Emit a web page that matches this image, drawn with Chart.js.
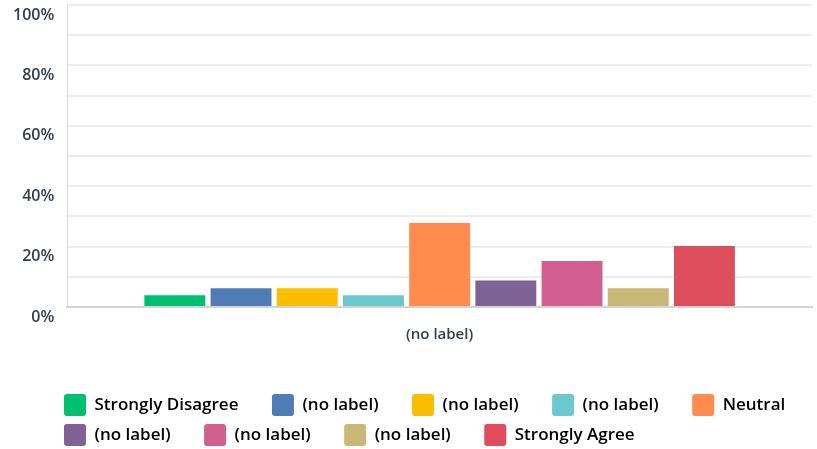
<!DOCTYPE html>
<html>
<head>
<meta charset="utf-8">
<script src="https://cdn.jsdelivr.net/npm/chart.js@4"></script>
<style>
  html, body { margin: 0; padding: 0; background: #fff; }
  #wrap { width: 817px; height: 449px; }
</style>
</head>
<body>
<div id="wrap"><canvas id="answerChart"></canvas></div>
<script>
// data
const categories = ["(no label)"];
const seriesNames = ["Strongly Disagree", "(no label)", "(no label)", "(no label)", "Neutral",
  "(no label)", "(no label)", "(no label)", "Strongly Agree"];
const seriesValues = [3.85, 6.2, 6.2, 3.85, 27.8, 8.8, 15.2, 6.2, 20.2];
const seriesColors = ["#00bf6f", "#507cb6", "#f9be00", "#6bc8cd", "#ff8b4f",
  "#7f6296", "#d25f90", "#c9b877", "#dd4d5c"];
const yTicks = [0, 20, 40, 60, 80, 100];

const textColor = "#333e48";
const fontFamily = "'Open Sans', sans-serif";

// shift the legend so it lines up with the plot area
const legendShift = {
  id: "legendShift",
  afterLayout(chart) {
    chart.legend.left += 56;
    chart.legend.right += 56;
  },
};

const ctx = document.getElementById("answerChart").getContext("2d");

new Chart(ctx, {
  type: "bar",
  data: {
    labels: categories,
    datasets: seriesNames.map((name, i) => ({
      label: name,
      data: [seriesValues[i]],
      backgroundColor: seriesColors[i],
      borderWidth: 0,
      categoryPercentage: 0.8,
      barPercentage: 0.92,
    })),
  },
  options: {
    responsive: true,
    maintainAspectRatio: false,
    animation: false,
    layout: { padding: { top: 5, right: 5, left: 0, bottom: -7 } },
    plugins: {
      tooltip: { enabled: false },
      legend: {
        position: "bottom",
        align: "start",
        labels: {
          boxWidth: 22,
          boxHeight: 22,
          padding: 8,
          color: textColor,
          font: { family: fontFamily, size: 17, weight: "600" },
          generateLabels(chart) {
            return chart.data.datasets.map((ds, i) => ({
              text: ds.label + "\u2003\u2002",
              fillStyle: ds.backgroundColor,
              strokeStyle: ds.backgroundColor,
              lineWidth: 0,
              datasetIndex: i,
              borderRadius: 3,
              hidden: false,
            }));
          },
          useBorderRadius: true,
          borderRadius: 3,
        },
      },
    },
    scales: {
      x: {
        grid: { display: false },
        border: { display: true, color: "#d3d3d3", width: 2 },
        ticks: {
          color: textColor,
          padding: 11,
          font: { family: fontFamily, size: 15, weight: "600" },
        },
        afterFit(scale) {
          scale.height += 31;
        },
      },
      y: {
        min: 0,
        max: 100,
        grid: { color: "#ececec", lineWidth: 2, drawTicks: false },
        border: { display: true, color: "#dcdcdc", width: 1 },
        ticks: {
          stepSize: 10,
          padding: 13,
          labelOffset: 10,
          color: textColor,
          font: { family: fontFamily, size: 16, weight: "600" },
          callback: (value) => (yTicks.includes(value) ? value + "%" : ""),
        },
        afterFit(scale) {
          scale.paddingTop = 0;
          scale.paddingBottom = 0;
        },
      },
    },
  },
  plugins: [legendShift],
});
</script>
</body>
</html>
